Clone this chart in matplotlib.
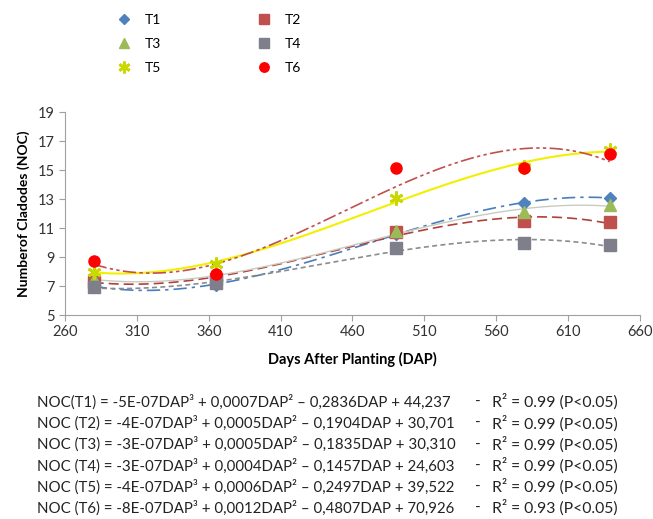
import numpy as np
import matplotlib
matplotlib.use("Agg")
import matplotlib.pyplot as plt

# days after planting of each sampling
dap = [280, 365, 490, 579, 639]

# number of cladodes per treatment
t1 = [7.0, 7.1, 10.6, 12.7, 13.1]
t2 = [7.3, 7.5, 10.7, 11.5, 11.4]
t3 = [7.5, 7.6, 10.8, 12.1, 12.6]
t4 = [6.9, 7.2, 9.6, 10.0, 9.8]
t5 = [8.0, 8.5, 13.1, 15.2, 16.4]
t6 = [8.75, 7.8, 15.15, 15.15, 16.1]

equations = [
    "NOC(T1) = -5E-07DAP³ + 0,0007DAP² – 0,2836DAP + 44,237",
    "NOC (T2) = -4E-07DAP³ + 0,0005DAP² – 0,1904DAP + 30,701",
    "NOC (T3) = -3E-07DAP³ + 0,0005DAP² – 0,1835DAP + 30,310",
    "NOC (T4) = -3E-07DAP³ + 0,0004DAP² – 0,1457DAP + 24,603",
    "NOC (T5) = -4E-07DAP³ + 0,0006DAP² – 0,2497DAP + 39,522",
    "NOC (T6) = -8E-07DAP³ + 0,0012DAP² – 0,4807DAP + 70,926",
]
r2 = ["0.99", "0.99", "0.99", "0.99", "0.99", "0.93"]

series = [
    ("T1", t1, dict(marker="D", ms=6, color="#4F81BD"), dict(color="#4A7EBB", ls=(0, (8, 3, 2, 3)), lw=1.2)),
    ("T2", t2, dict(marker="s", ms=8, color="#C0504D"), dict(color="#B0403D", ls=(0, (6, 3)), lw=1.2)),
    ("T3", t3, dict(marker="^", ms=8, color="#9BBB59"), dict(color="#C8CCC0", ls="-", lw=1.0)),
    ("T4", t4, dict(marker="s", ms=9, color="#7F7F8C"), dict(color="#8C8C8C", ls=(0, (3, 2)), lw=1.2)),
    ("T5", t5, dict(marker=(6, 2, 0), ms=10, color="#C8D800", mew=2), dict(color="#F2F000", ls="-", lw=1.5)),
    ("T6", t6, dict(marker="o", ms=8, color="#FF0000"), dict(color="#C0504D", ls=(0, (8, 2, 2, 2, 2, 2)), lw=1.2)),
]

plt.rcParams["font.family"] = ["Lato", "DejaVu Sans"]
fig = plt.figure(figsize=(6.53, 5.19), dpi=100)
ax = fig.add_axes([0.0995, 0.393, 0.8805, 0.391])

xs = np.linspace(min(dap), max(dap), 200)
handles = {}
for name, y, mk, ln in series:
    coef = np.polyfit(dap, y, 3)
    ax.plot(xs, np.polyval(coef, xs), zorder=2, **ln)
for name, y, mk, ln in series:
    h, = ax.plot(dap, y, ls="none", zorder=3, label=name, **mk)
    handles[name] = h

ax.set_xlim(260, 660)
ax.set_ylim(5, 19)
ax.set_xticks(range(260, 661, 50))
ax.set_yticks(range(5, 20, 2))
for s in ["top", "right"]:
    ax.spines[s].set_visible(False)
for s in ["left", "bottom"]:
    ax.spines[s].set_color("#A0A0A0")
ax.tick_params(direction="out", color="#A0A0A0", labelsize=10.5, labelcolor="#333333", length=4)
ax.set_xlabel("Days After Planting (DAP)", fontsize=10.5, fontweight="bold", labelpad=9)
ax.set_ylabel("Numberof Cladodes (NOC)", fontsize=10, fontweight="bold", labelpad=5)

# legend reads row-wise: T1 T2 / T3 T4 / T5 T6
order = ["T1", "T3", "T5", "T2", "T4", "T6"]
fig.legend(handles=[handles[k] for k in order], loc="upper left",
           bbox_to_anchor=(0.158, 1.0), ncol=2, frameon=False, fontsize=10,
           columnspacing=6.9, handletextpad=1.0, labelspacing=0.85,
           handlelength=1.0, markerscale=0.85, borderaxespad=0.6)

y0 = 402
for i, eq in enumerate(equations):
    yy = 1 - (y0 + i * 21.2) / 519
    fig.text(37 / 653, yy, eq, fontsize=10.8, color="#222222", va="center")
    fig.text(475 / 653, yy, "-", fontsize=11, color="#222222", va="center")
    fig.text(492 / 653, yy, "R² = " + r2[i] + " (P<0.05)", fontsize=11.3,
             color="#222222", va="center")

plt.savefig("out.png", dpi=100)
